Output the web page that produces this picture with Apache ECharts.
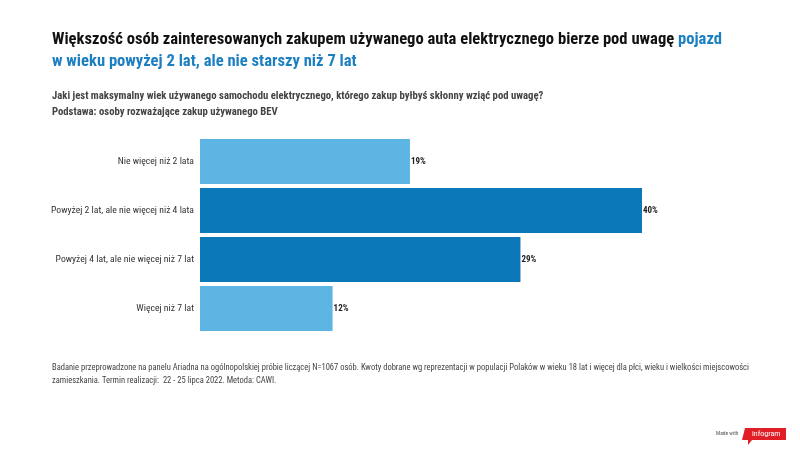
<!DOCTYPE html>
<html><head><meta charset="utf-8">
<script src="https://cdn.jsdelivr.net/npm/echarts@6/dist/echarts.min.js"></script>
<style>html,body{margin:0;padding:0;background:#fff}#c{width:800px;height:450px}</style>
</head><body><div id="c"></div>
<script>
const categories = ['Nie więcej niż 2 lata','Powyżej 2 lat, ale nie więcej niż 4 lata','Powyżej 4 lat, ale nie więcej niż 7 lat','Więcej niż 7 lat'];
const values = [19, 40, 29, 12];
const highlight = [false, true, true, false];
const titleMain = 'Większość osób zainteresowanych zakupem używanego auta elektrycznego bierze pod uwagę ';
const titleBlue1 = 'pojazd';
const titleBlue2 = 'w wieku powyżej 2 lat, ale nie starszy niż 7 lat';
const question = 'Jaki jest maksymalny wiek używanego samochodu elektrycznego, którego zakup byłbyś skłonny wziąć pod uwagę?';
const base = 'Podstawa: osoby rozważające zakup używanego BEV';
const note1 = 'Badanie przeprowadzone na panelu Ariadna na ogólnopolskiej próbie liczącej N=1067 osób. Kwoty dobrane wg reprezentacji w populacji Polaków w wieku 18 lat i więcej dla płci, wieku i wielkości miejscowości';
const note2 = 'zamieszkania. Termin realizacji:  22 - 25 lipca 2022. Metoda: CAWI.';

const LIGHT = '#5DB5E4', DARK = '#0A78B9';
const FONT = '"Roboto Condensed","Liberation Sans Narrow",Roboto,sans-serif';

const chart = echarts.init(document.getElementById('c'), null, {renderer:'canvas'});
chart.setOption({
  animation:false,
  textStyle:{fontFamily:FONT},
  title:[
    {left:47, top:26, text:'{a|'+titleMain+'}{b|'+titleBlue1+'}', textStyle:{rich:{
      a:{fontFamily:FONT,fontSize:16.6,fontWeight:'bold',color:'#111'},
      b:{fontFamily:FONT,fontSize:16.6,fontWeight:'bold',color:'#1B7FC2'}}}},
    {left:47, top:48, text:titleBlue2, textStyle:{fontFamily:FONT,fontSize:16.6,fontWeight:'bold',color:'#1B7FC2'}},
    {left:47, top:86, text:question, textStyle:{fontFamily:FONT,fontSize:10.7,fontWeight:'bold',color:'#444'}},
    {left:47, top:102, text:base, textStyle:{fontFamily:FONT,fontSize:10.7,fontWeight:'bold',color:'#444'}},
    {left:47, top:358, text:note1, textStyle:{fontFamily:FONT,fontSize:8.5,fontWeight:'normal',color:'#444'}},
    {left:47, top:371, text:note2, textStyle:{fontFamily:FONT,fontSize:8.5,fontWeight:'normal',color:'#444'}}
  ],
  grid:{left:200, right:158, top:137, bottom:117, containLabel:false},
  xAxis:{type:'value', min:0, max:40, show:false},
  yAxis:{type:'category', data:categories, inverse:true,
    axisLine:{show:false}, axisTick:{show:false},
    axisLabel:{fontFamily:FONT, fontSize:9.7, color:'#333', margin:6}},
  series:[{
    type:'bar',
    data:values.map((v,i)=>({value:v, itemStyle:{color: highlight[i]?DARK:LIGHT}})),
    barCategoryGap:'8%',
    label:{show:true, position:'right', distance:1, formatter:'{c}%', fontFamily:FONT, fontSize:9, fontWeight:'bold', color:'#222'}
  }],
  graphic:[
    {type:'text', left:716, top:431, style:{text:'Made with', fontFamily:FONT, fontSize:5.5, fill:'#555'}},
    {type:'polygon', shape:{points:[[745,428],[786,428],[786,440],[752,440],[748,445],[748,440],[742,440]]}, style:{fill:'#E11E26'}},
    {type:'text', left:752, top:430, style:{text:'infogram', fontFamily:FONT, fontSize:8, fill:'#fff'}}
  ]
});
</script></body></html>
